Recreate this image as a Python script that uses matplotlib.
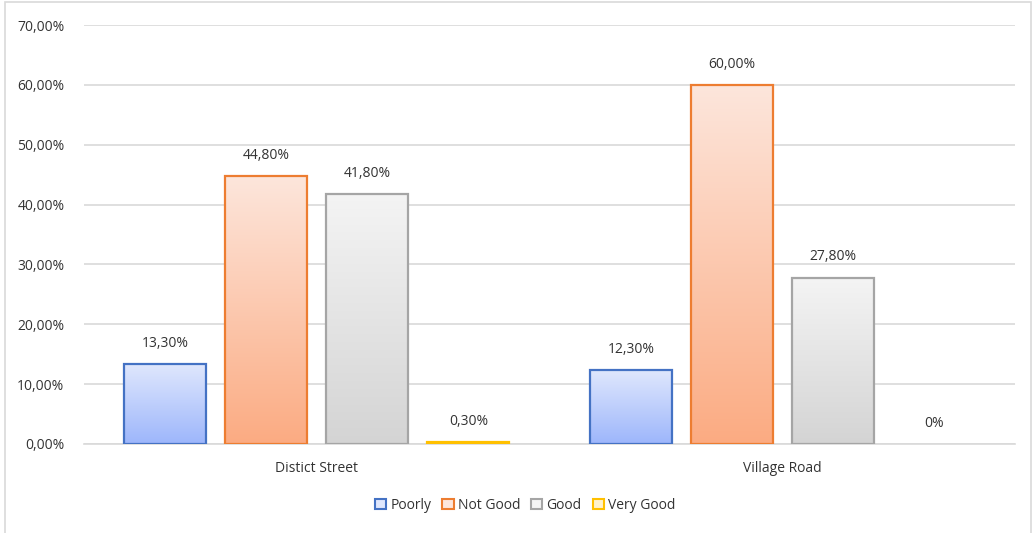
import matplotlib.pyplot as plt
import numpy as np
from matplotlib.colors import LinearSegmentedColormap
from matplotlib.patches import Rectangle, Patch

# ----------------------------------------------------------
# DATA
# ----------------------------------------------------------
categories = ["Distict Street", "Village Road"]
series = ["Poorly", "Not Good", "Good", "Very Good"]

poorly = [13.3, 12.3]
not_good = [44.8, 60.0]
good = [41.8, 27.8]
very_good = [0.3, 0.0]

labels_poorly = ["13,30%", "12,30%"]
labels_not_good = ["44,80%", "60,00%"]
labels_good = ["41,80%", "27,80%"]
labels_very_good = ["0,30%", "0%"]

yticks = [0, 10, 20, 30, 40, 50, 60, 70]
ytick_labels = ["0,00%", "10,00%", "20,00%", "30,00%",
                "40,00%", "50,00%", "60,00%", "70,00%"]

values = [poorly, not_good, good, very_good]
bar_labels = [labels_poorly, labels_not_good, labels_good, labels_very_good]

# ----------------------------------------------------------
# STYLE
# ----------------------------------------------------------
edge_colors = ["#4472c4", "#ed7d31", "#a5a5a5", "#ffc000"]
grad_top = ["#dfe7fd", "#fde6dc", "#f4f4f4", "#fff2cc"]
grad_bottom = ["#9db6fb", "#fbab82", "#d4d4d4", "#ffd966"]
text_color = "#333333"

plt.rcParams["font.family"] = ["Open Sans", "DejaVu Sans"]

fig = plt.figure(figsize=(10.36, 5.33), dpi=100)
ax = fig.add_axes([0.081, 0.167, 0.899, 0.786])

x = np.arange(len(categories))
width = 0.176
step = 0.217
offsets = (np.arange(len(series)) - 1.5) * step

grad = np.linspace(0, 1, 256).reshape(-1, 1)

for i, name in enumerate(series):
    cmap = LinearSegmentedColormap.from_list(
        name, [grad_bottom[i], grad_top[i]])
    bars = ax.bar(x + offsets[i], values[i], width,
                  facecolor="none", edgecolor=edge_colors[i],
                  linewidth=1.6, zorder=3)
    for j, bar in enumerate(bars):
        h = bar.get_height()
        bx = bar.get_x()
        ax.text(bx + width / 2, h + 2.2, bar_labels[i][j],
                ha="center", va="bottom", fontsize=10, color=text_color)
        if h <= 0:
            bar.set_linewidth(0)
            continue
        img = ax.imshow(grad, cmap=cmap, aspect="auto", origin="lower",
                        extent=[bx, bx + width, 0, h], zorder=2)
        img.set_clip_path(bar)

ax.set_xlim(-0.5, 1.5)
ax.set_ylim(0, 70)
ax.set_yticks(yticks)
ax.set_yticklabels(ytick_labels)
ax.set_xticks(x)
ax.set_xticklabels(categories)
ax.tick_params(axis="both", length=0, labelsize=10, colors=text_color)
ax.tick_params(axis="x", pad=12)
ax.tick_params(axis="y", pad=14)

ax.grid(axis="y", color="#d9d9d9", linewidth=1.2, zorder=0)
for side in ["top", "right", "left"]:
    ax.spines[side].set_visible(False)
ax.spines["bottom"].set_color("#d9d9d9")
ax.spines["bottom"].set_linewidth(1.2)

handles = [Patch(facecolor=grad_top[i], edgecolor=edge_colors[i],
                 linewidth=1.5, label=series[i])
           for i in range(len(series))]
fig.legend(handles=handles, loc="center", bbox_to_anchor=(0.507, 0.052),
           ncol=4, frameon=False, fontsize=10, handlelength=0.8,
           handleheight=0.8, handletextpad=0.3, columnspacing=0.8,
           labelcolor=text_color)

# outer chart border
fig.patches.append(Rectangle((0.005, -0.01), 0.99, 1.007,
                             transform=fig.transFigure, fill=False,
                             edgecolor="#d9d9d9", linewidth=1.2))

fig.savefig("out.png", dpi=100)
